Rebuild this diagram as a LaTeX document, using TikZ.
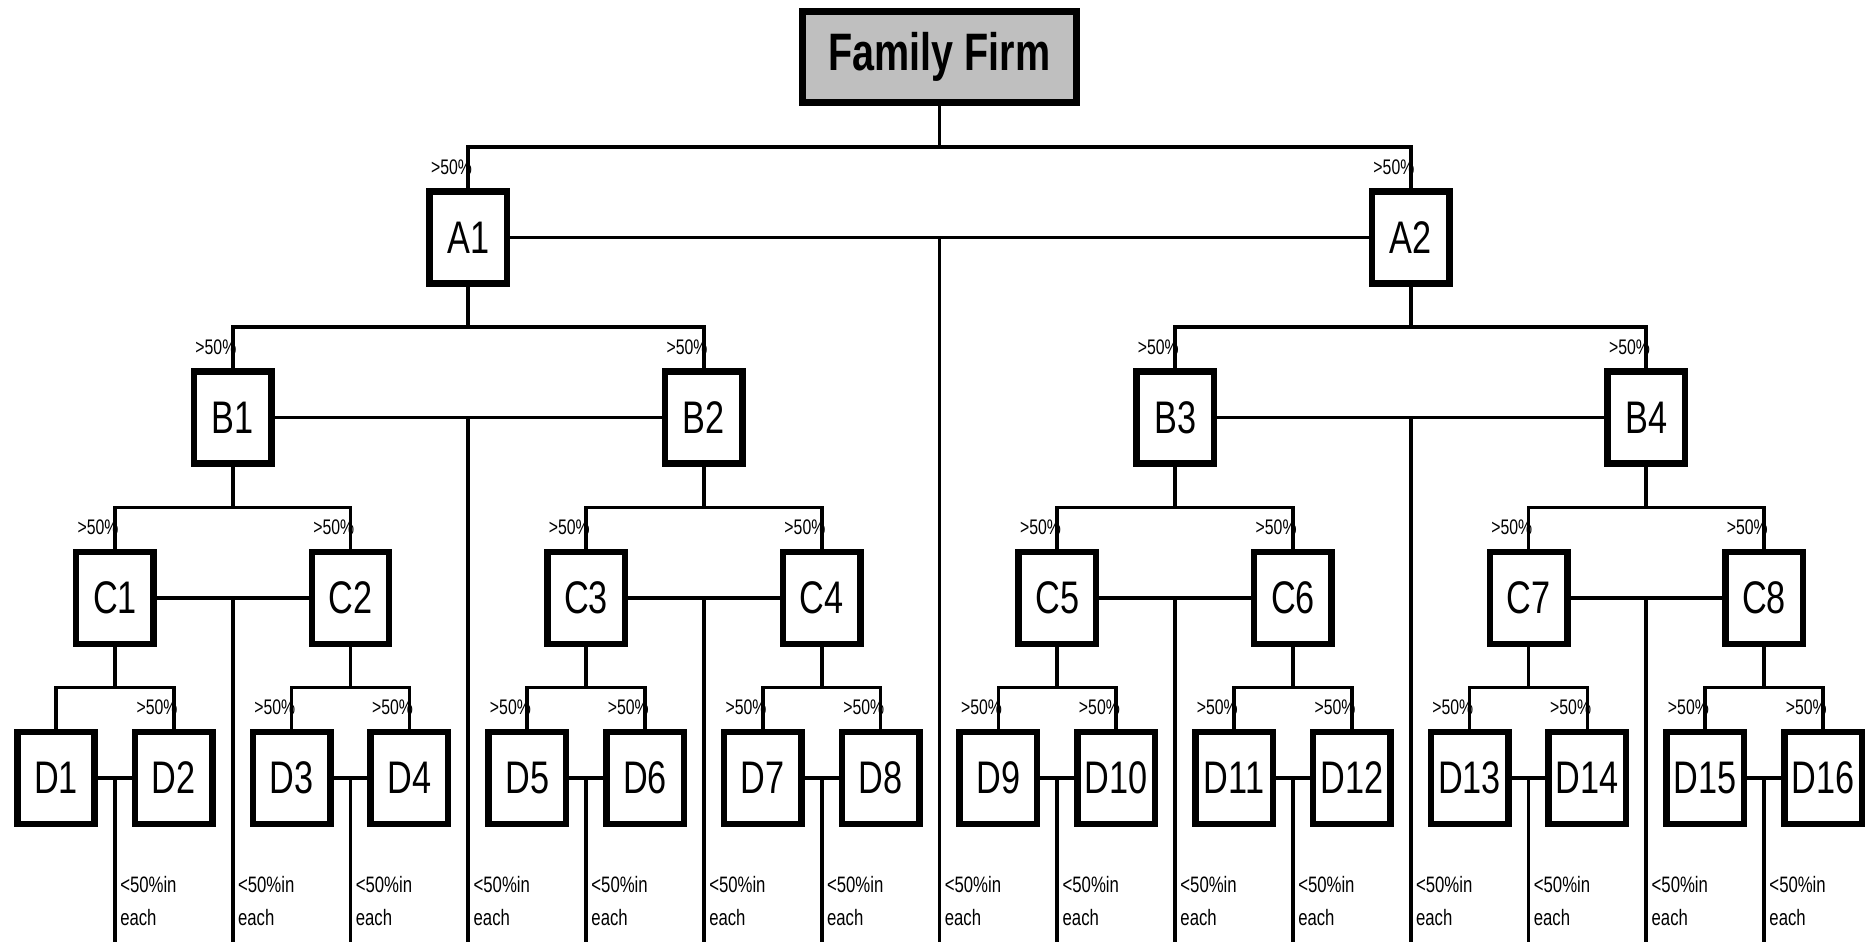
\documentclass[tikz,border=0pt]{standalone}
\usepackage{fontspec}
\setmainfont{Liberation Sans}[FakeStretch=0.75]
\usetikzlibrary{calc}
\tikzset{
    % Box styles
    firm/.style={rectangle,draw=black,line width=0.14cm,fill=black!25,minimum width=5.48cm,minimum height=1.84cm,inner sep=0pt,font=\fontsize{30}{30}\selectfont\bfseries},
    subsid/.style={rectangle,draw=black,line width=0.13cm,fill=white,minimum width=1.55cm,minimum height=1.85cm,inner sep=0pt,font=\fontsize{26}{26}\selectfont},
    % Text styles
    share/.style={inner sep=0pt,font=\fontsize{12}{12}\selectfont},
    holding/.style={inner sep=0pt,align=left,font=\fontsize{12.7}{18.8}\selectfont},
    % Line style
    link/.style={line width=0.075cm,black}
}

\begin{document}
\begin{tikzpicture}[x=0.02cm,y=-0.02cm]
    \useasboundingbox (0,0) rectangle (1865,942);
    \coordinate (bot) at (0,942);

    % Top
    \node[firm] (ff) at (939.5,57) {Family Firm};

    % Level A
    \node[subsid] (a1) at (468.3,237.5) {A1};
    \node[subsid] (a2) at (1410.7,237.5) {A2};

    % Level B
    \node[subsid] (b1) at (232.7,417.5) {B1};
    \node[subsid] (b2) at (703.9,417.5) {B2};
    \node[subsid] (b3) at (1175.1,417.5) {B3};
    \node[subsid] (b4) at (1646.3,417.5) {B4};

    % Level C
    \node[subsid] (c1) at (114.9,598) {C1};
    \node[subsid] (c2) at (350.5,598) {C2};
    \node[subsid] (c3) at (586.1,598) {C3};
    \node[subsid] (c4) at (821.7,598) {C4};
    \node[subsid] (c5) at (1057.3,598) {C5};
    \node[subsid] (c6) at (1292.9,598) {C6};
    \node[subsid] (c7) at (1528.5,598) {C7};
    \node[subsid] (c8) at (1764.1,598) {C8};

    % Level D
    \node[subsid] (d1) at (56,778) {D1};
    \node[subsid] (d2) at (173.8,778) {D2};
    \node[subsid] (d3) at (291.6,778) {D3};
    \node[subsid] (d4) at (409.4,778) {D4};
    \node[subsid] (d5) at (527.2,778) {D5};
    \node[subsid] (d6) at (645,778) {D6};
    \node[subsid] (d7) at (762.8,778) {D7};
    \node[subsid] (d8) at (880.6,778) {D8};
    \node[subsid] (d9) at (998.4,778) {D9};
    \node[subsid] (d10) at (1116.2,778) {D10};
    \node[subsid] (d11) at (1234,778) {D11};
    \node[subsid] (d12) at (1351.8,778) {D12};
    \node[subsid] (d13) at (1469.6,778) {D13};
    \node[subsid] (d14) at (1587.4,778) {D14};
    \node[subsid] (d15) at (1705.2,778) {D15};
    \node[subsid] (d16) at (1823,778) {D16};

    % Majority stakes
    \foreach \c in {a1,a2,b1,b2,b3,b4,c1,c2,c3,c4,c5,c6,c7,c8,d2,d3,d4,d5,d6,d7,d8,d9,d10,d11,d12,d13,d14,d15,d16}
        \node[share,anchor=east] at ($(\c.north)+(4,-21)$) {>50\%};

    % Ownership links and cross holdings
    \foreach \p/\l/\r in {ff/a1/a2, a1/b1/b2, a2/b3/b4, b1/c1/c2, b2/c3/c4, b3/c5/c6, b4/c7/c8,
        c1/d1/d2, c2/d3/d4, c3/d5/d6, c4/d7/d8, c5/d9/d10, c6/d11/d12, c7/d13/d14, c8/d15/d16}{
        \draw[link] (\l.north) -- ++(0,-41) coordinate (bar) -| (\r.north);
        \draw[link] (\p.south) -- (\p.south |- bar);
        \draw[link] (\l) -- (\r);
        \coordinate (mid) at ($(\l)!.5!(\r)$);
        \draw[link] (mid) -- (mid |- bot);
        \node[holding,anchor=north west] at ($(mid |- bot)+(5,-66)$) {<50\%in\\each};
    }
\end{tikzpicture}
\end{document}
